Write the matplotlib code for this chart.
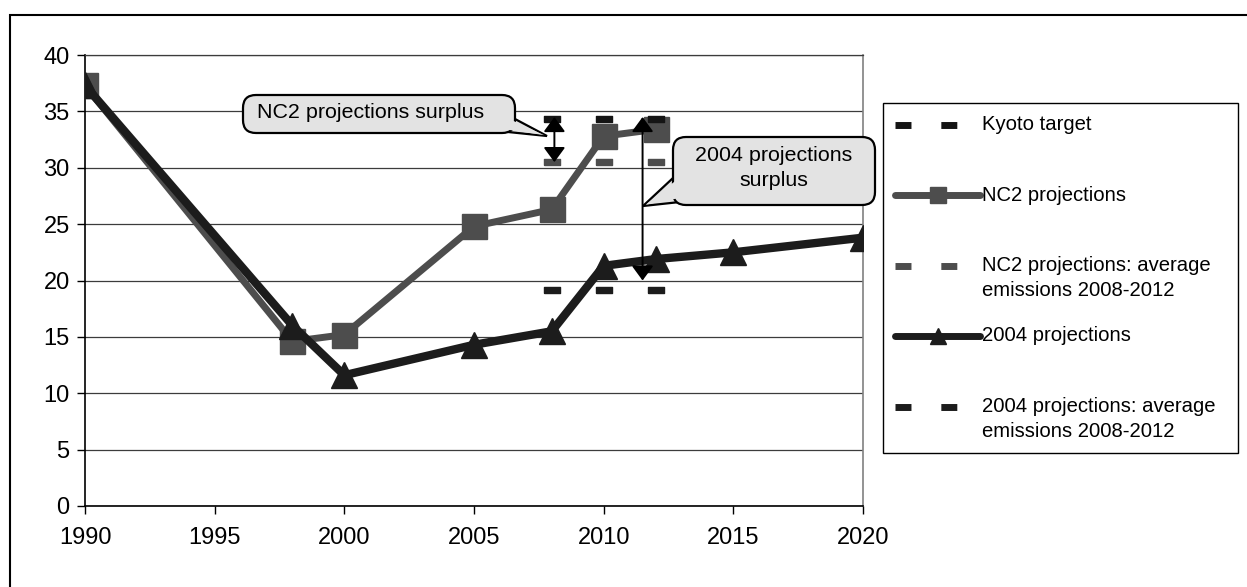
import matplotlib
matplotlib.use("Agg")
import matplotlib.pyplot as plt
from matplotlib.lines import Line2D
from matplotlib.patches import Rectangle, FancyBboxPatch, Polygon
from matplotlib.legend_handler import HandlerLine2D
from matplotlib.transforms import Affine2D

plt.rcParams['font.family'] = ['Liberation Sans', 'DejaVu Sans']

# emissions series
nc2_years = [1990, 1998, 2000, 2005, 2008, 2010, 2012]
nc2_values = [37.3, 14.6, 15.2, 24.8, 26.3, 32.8, 33.4]

proj_years = [1990, 1998, 2000, 2005, 2008, 2010, 2012, 2015, 2020]
proj_values = [37.3, 16.0, 11.6, 14.3, 15.5, 21.3, 21.9, 22.5, 23.8]

# commitment period markers
period_years = [2008, 2010, 2012]
kyoto_target = [34.3, 34.3, 34.3]
nc2_average = [30.5, 30.5, 30.5]
proj_average = [19.2, 19.2, 19.2]

labels = ["Kyoto target", "NC2 projections",
          "NC2 projections: average\nemissions 2008-2012",
          "2004 projections",
          "2004 projections: average\nemissions 2008-2012"]

GREY = '#4d4d4d'
BLACK = '#1c1c1c'
CALLOUT_FILL = '#e3e3e3'

W, H = 1247, 587
fig = plt.figure(figsize=(W / 100, H / 100), dpi=100)
ax = fig.add_axes([85 / W, 81 / H, 778 / W, 451 / H])

# pixel layout coordinates (origin top left) for the callout shapes
px = Affine2D().scale(1 / W, -1 / H).translate(0, 1) + fig.transFigure

# short flat bar used for the period averages
bar = [(-1, -0.4), (1, -0.4), (1, 0.4), (-1, 0.4), (-1, -0.4)]

ax.plot(nc2_years, nc2_values, color=GREY, lw=5, marker='s', ms=18,
        mfc=GREY, mec=GREY, zorder=3, solid_joinstyle='round')
ax.plot(proj_years, proj_values, color=BLACK, lw=6, marker='^', ms=19,
        mfc=BLACK, mec=BLACK, zorder=4, solid_joinstyle='round')
ax.plot(period_years, kyoto_target, ls='none', marker=bar, ms=12,
        color='#141414', zorder=5)
ax.plot(period_years, nc2_average, ls='none', marker=bar, ms=11,
        color=GREY, zorder=5)
ax.plot(period_years, proj_average, ls='none', marker=bar, ms=12,
        color=BLACK, zorder=5)

# surplus arrows
arrow_kw = dict(arrowstyle="<|-|>,head_length=0.45,head_width=0.33",
                color='black', lw=1.4, shrinkA=0, shrinkB=0, mutation_scale=20)
ax.annotate("", xy=(2008.1, 34.5), xytext=(2008.1, 30.5),
            arrowprops=arrow_kw, zorder=6)
ax.annotate("", xy=(2011.5, 34.5), xytext=(2011.5, 20.0),
            arrowprops=arrow_kw, zorder=6)


def callout(text, box, tail, text_pos, ha):
    x0, y0, x1, y1 = box
    p1, p2, tip = tail
    # outlined tail goes under the box, a fill-only copy on top hides the seam
    ax.add_patch(Polygon([p1, tip, p2], closed=True, fc=CALLOUT_FILL,
                         ec='black', lw=1.6, transform=px, clip_on=False,
                         zorder=7))
    ax.add_patch(FancyBboxPatch((x0, y0), x1 - x0, y1 - y0,
                                boxstyle="round,pad=0,rounding_size=13",
                                fc=CALLOUT_FILL, ec='black', lw=1.6,
                                transform=px, clip_on=False, zorder=8))
    cx, cy = (p1[0] + p2[0]) / 2, (p1[1] + p2[1]) / 2
    inner = [(p1[0] + 0.25 * (cx - p1[0]) - 0.1 * (tip[0] - cx),
              p1[1] + 0.25 * (cy - p1[1]) - 0.1 * (tip[1] - cy)),
             (tip[0] - 0.08 * (tip[0] - cx), tip[1] - 0.08 * (tip[1] - cy)),
             (p2[0] + 0.25 * (cx - p2[0]) - 0.1 * (tip[0] - cx),
              p2[1] + 0.25 * (cy - p2[1]) - 0.1 * (tip[1] - cy))]
    ax.add_patch(Polygon(inner, closed=True, fc=CALLOUT_FILL, ec='none',
                         transform=px, clip_on=False, zorder=9))
    ax.text(text_pos[0], text_pos[1], text, transform=px, ha=ha,
            va='center', ma='center', fontsize=15.4, linespacing=1.35,
            zorder=10)


callout("NC2 projections surplus", (243, 95, 515, 133),
        [(515, 119), (508, 132), (547, 136)], (257, 113), 'left')
callout("2004 projections\nsurplus", (673, 137, 875, 205),
        [(673, 178), (680, 202), (643, 206)], (774, 168), 'center')

ax.set_xlim(1990, 2020)
ax.set_ylim(0, 40)
ax.set_xticks(range(1990, 2021, 5))
ax.set_yticks(range(0, 41, 5))
ax.tick_params(axis='both', direction='out', length=6, width=1,
               labelsize=17, colors='black')
ax.tick_params(axis='y', pad=5)
ax.tick_params(axis='x', pad=9)
ax.yaxis.grid(True, color='#3c3c3c', lw=0.9)
ax.set_axisbelow(True)
for side in ['left', 'bottom']:
    ax.spines[side].set_color('black')
    ax.spines[side].set_linewidth(1.2)
ax.spines['right'].set_color('#808080')
ax.spines['right'].set_linewidth(1.2)
ax.spines['top'].set_color('#3c3c3c')
ax.spines['top'].set_linewidth(0.9)


class FirstLineHandler(HandlerLine2D):
    """Puts the legend key level with the first line of its label."""

    def create_artists(self, legend, orig_handle, xdescent, ydescent,
                       width, height, fontsize, trans):
        return super().create_artists(legend, orig_handle, xdescent,
                                      ydescent - 18, width, height,
                                      fontsize, trans)


dash = (0, (2.3, 4.3))
handles = [
    Line2D([], [], color='#141414', lw=5, ls=dash, dash_capstyle='butt'),
    Line2D([], [], color=GREY, lw=5, marker='s', ms=11, solid_capstyle='round'),
    Line2D([], [], color=GREY, lw=5, ls=dash, dash_capstyle='butt'),
    Line2D([], [], color=BLACK, lw=5, marker='^', ms=11, solid_capstyle='round'),
    Line2D([], [], color=BLACK, lw=5, ls=dash, dash_capstyle='butt'),
]
# every entry gets two rows so the keys sit on an even pitch
rows = [lab if '\n' in lab else lab + '\n' for lab in labels]
leg = fig.legend(handles, rows, loc='upper left',
                 bbox_to_anchor=(883 / W, 1 - 103 / H - 0.01, 355 / W, 0.01),
                 mode='expand', borderaxespad=0,
                 fontsize=14.6, frameon=True, fancybox=False,
                 edgecolor='black', framealpha=1, handlelength=4.2,
                 handletextpad=0.1, labelspacing=1.3, borderpad=0.6,
                 handler_map={Line2D: FirstLineHandler()})
leg.get_frame().set_linewidth(1.0)
for t in leg.get_texts():
    t.set_linespacing(1.4)

# outer chart frame
fig.add_artist(Rectangle((9.5 / W, -0.2), 1.2, (H - 15) / H + 0.2,
                         transform=fig.transFigure, fill=False,
                         ec='black', lw=1.5))

fig.savefig("out.png", dpi=100)
